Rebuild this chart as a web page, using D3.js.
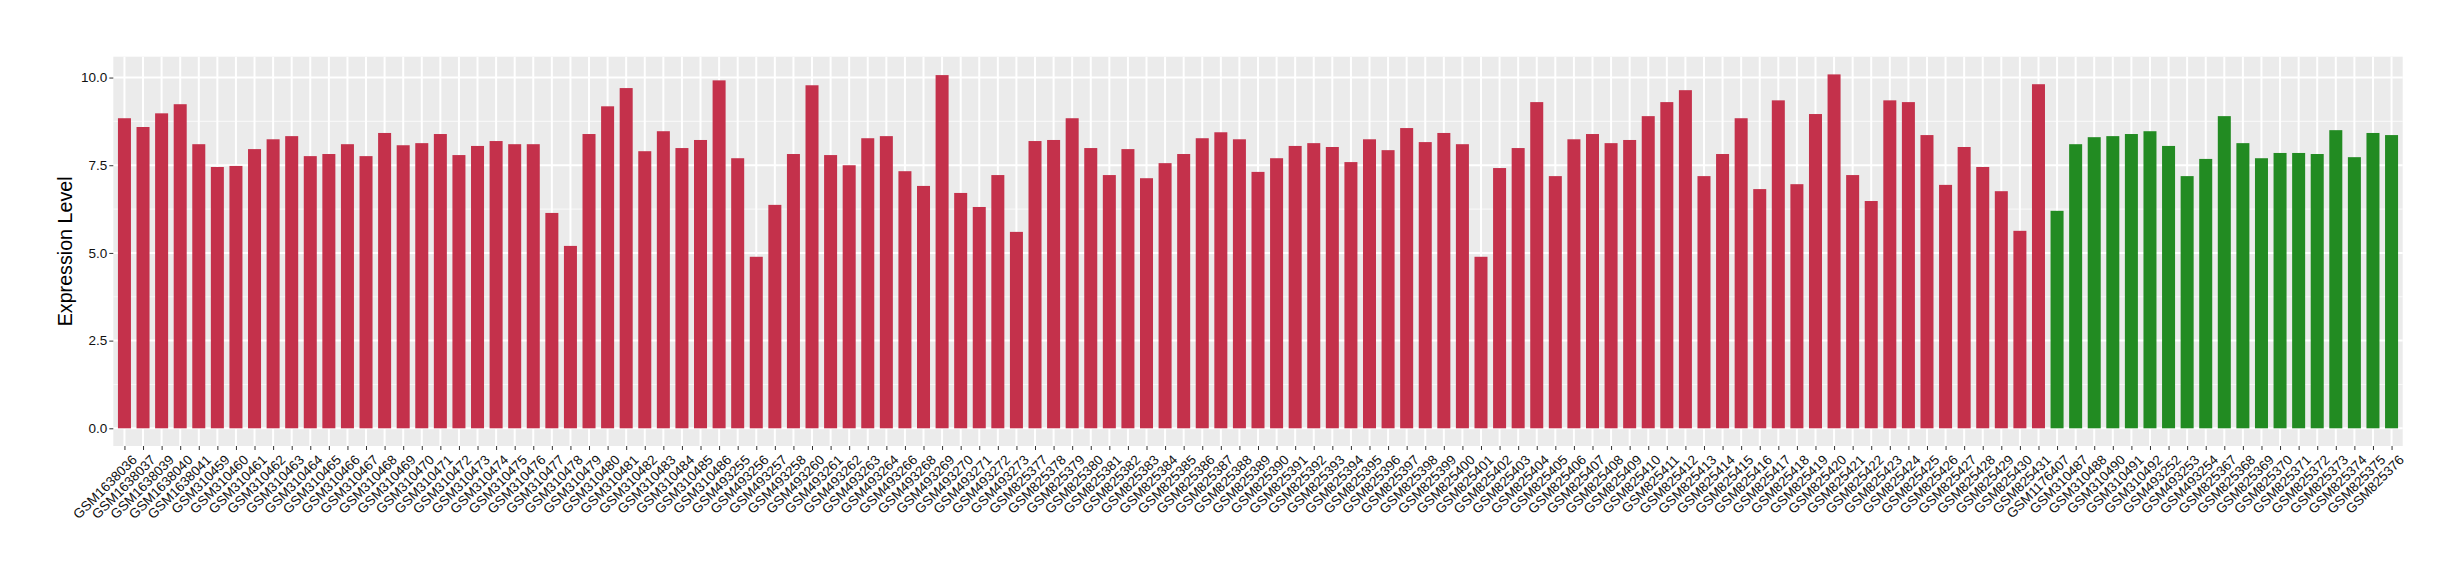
<!DOCTYPE html>
<html>
<head>
<meta charset="utf-8">
<script src="https://cdn.jsdelivr.net/npm/d3@7"></script>
<style>
  html, body { margin: 0; padding: 0; background: #fff; }
  svg { display: block; }
  text { font-family: "Liberation Sans", Arial, Helvetica, sans-serif; }
</style>
</head>
<body>
<div id="chart"></div>
<script>
// ---- data ----
const redSamples = [
  "GSM1638036","GSM1638037","GSM1638039","GSM1638040","GSM1638041",
  "GSM310459","GSM310460","GSM310461","GSM310462","GSM310463","GSM310464","GSM310465","GSM310466","GSM310467","GSM310468",
  "GSM310469","GSM310470","GSM310471","GSM310472","GSM310473","GSM310474","GSM310475","GSM310476","GSM310477","GSM310478",
  "GSM310479","GSM310480","GSM310481","GSM310482","GSM310483","GSM310484","GSM310485","GSM310486",
  "GSM493255","GSM493256","GSM493257","GSM493258","GSM493260","GSM493261","GSM493262","GSM493263","GSM493264","GSM493266",
  "GSM493268","GSM493269","GSM493270","GSM493271","GSM493272","GSM493273",
  "GSM825377","GSM825378","GSM825379","GSM825380","GSM825381","GSM825382","GSM825383","GSM825384","GSM825385","GSM825386",
  "GSM825387","GSM825388","GSM825389","GSM825390","GSM825391","GSM825392","GSM825393","GSM825394","GSM825395","GSM825396",
  "GSM825397","GSM825398","GSM825399","GSM825400","GSM825401","GSM825402","GSM825403","GSM825404","GSM825405","GSM825406",
  "GSM825407","GSM825408","GSM825409","GSM825410","GSM825411","GSM825412","GSM825413","GSM825414","GSM825415","GSM825416",
  "GSM825417","GSM825418","GSM825419","GSM825420","GSM825421","GSM825422","GSM825423","GSM825424","GSM825425","GSM825426",
  "GSM825427","GSM825428","GSM825429","GSM825430","GSM825431"
];
const redValues = [
  8.84, 8.59, 8.98, 9.24, 8.10,
  7.45, 7.48, 7.96, 8.24, 8.33, 7.76, 7.82, 8.10, 7.76, 8.42,
  8.07, 8.13, 8.39, 7.79, 8.05, 8.19, 8.10, 8.10, 6.14, 5.20,
  8.39, 9.18, 9.70, 7.90, 8.47, 7.99, 8.22, 9.92,
  7.70, 4.89, 6.37, 7.82, 9.78, 7.79, 7.50, 8.27, 8.33, 7.33,
  6.91, 10.07, 6.71, 6.31, 7.22, 5.60,
  8.19, 8.22, 8.84, 7.99, 7.22, 7.96, 7.13, 7.56, 7.82, 8.27,
  8.44, 8.24, 7.31, 7.70, 8.05, 8.13, 8.02, 7.59, 8.24, 7.93,
  8.56, 8.16, 8.42, 8.10, 4.89, 7.42, 7.99, 9.30, 7.19, 8.24,
  8.39, 8.13, 8.22, 8.90, 9.30, 9.64, 7.19, 7.82, 8.84, 6.82,
  9.35, 6.96, 8.96, 10.09, 7.22, 6.48, 9.35, 9.30, 8.36, 6.94,
  8.02, 7.45, 6.76, 5.63, 9.81
];
const greenSamples = [
  "GSM1176407","GSM310487","GSM310488","GSM310490","GSM310491","GSM310492",
  "GSM493252","GSM493253","GSM493254",
  "GSM825367","GSM825368","GSM825369","GSM825370","GSM825371","GSM825372","GSM825373","GSM825374","GSM825375","GSM825376"
];
const greenValues = [
  6.20, 8.10, 8.30, 8.33, 8.39, 8.47,
  8.05, 7.19, 7.68,
  8.90, 8.13, 7.70, 7.85, 7.85, 7.82, 8.50, 7.73, 8.42, 8.36
];
const yTicks = [0, 2.5, 5, 7.5, 10];
const yMinor = [1.25, 3.75, 6.25, 8.75];
const yTitle = "Expression Level";
const groupColors = { red: "#C4314B", green: "#228B22" };

// ---- build table ----
const rows = redSamples.map((s, i) => ({ sample: s, value: redValues[i], group: "red" }))
  .concat(greenSamples.map((s, i) => ({ sample: s, value: greenValues[i], group: "green" })));

const W = 2460, H = 580;
const panel = { left: 113.3, right: 2402.7, top: 56.7, bottom: 446 };

const svg = d3.select("#chart").append("svg").attr("width", W).attr("height", H);

const maxV = d3.max(rows, d => d.value);
const pad = 0.05 * maxV;
const y = d3.scaleLinear().domain([-pad, maxV + pad]).range([panel.bottom, panel.top]);
const x = d3.scalePoint().domain(rows.map(d => d.sample)).range([panel.left, panel.right]).padding(0.6);
const step = x.step();
const barW = step * 0.7;

// panel background
svg.append("rect")
  .attr("x", panel.left).attr("y", panel.top)
  .attr("width", panel.right - panel.left).attr("height", panel.bottom - panel.top)
  .attr("fill", "#EBEBEB");

// minor grid
svg.append("g").selectAll("line").data(yMinor).join("line")
  .attr("x1", panel.left).attr("x2", panel.right)
  .attr("y1", d => y(d)).attr("y2", d => y(d))
  .attr("stroke", "#fff").attr("stroke-width", 1.1).attr("opacity", 0.6);
// major grid horizontal
svg.append("g").selectAll("line").data(yTicks).join("line")
  .attr("x1", panel.left).attr("x2", panel.right)
  .attr("y1", d => y(d)).attr("y2", d => y(d))
  .attr("stroke", "#fff").attr("stroke-width", 2);
// major grid vertical
svg.append("g").selectAll("line").data(rows).join("line")
  .attr("x1", d => x(d.sample)).attr("x2", d => x(d.sample))
  .attr("y1", panel.top).attr("y2", panel.bottom)
  .attr("stroke", "#fff").attr("stroke-width", 2);

// bars
svg.append("g").selectAll("rect").data(rows).join("rect")
  .attr("x", d => x(d.sample) - barW / 2)
  .attr("width", barW)
  .attr("y", d => y(d.value))
  .attr("height", d => y(0) - y(d.value))
  .attr("fill", d => groupColors[d.group]);

// y axis
const yAxis = svg.append("g")
  .attr("transform", `translate(${panel.left},0)`)
  .call(d3.axisLeft(y).tickValues(yTicks).tickFormat(d3.format(".1f")).tickSize(4).tickPadding(2));
yAxis.select(".domain").remove();
yAxis.selectAll(".tick line").attr("stroke", "#333").attr("stroke-width", 1);
yAxis.selectAll(".tick text").attr("fill", "#111").attr("font-size", 13.5);

// x axis
const xAxis = svg.append("g")
  .attr("transform", `translate(0,${panel.bottom})`)
  .call(d3.axisBottom(x).tickSize(4).tickPadding(2));
xAxis.select(".domain").remove();
xAxis.selectAll(".tick line").attr("stroke", "#333").attr("stroke-width", 1);
xAxis.selectAll(".tick text")
  .attr("fill", "#111")
  .attr("font-size", 13.5)
  .attr("text-anchor", "end")
  .attr("dy", null)
  .attr("y", 0)
  .attr("x", 0)
  .attr("transform", "translate(6,8) rotate(-45)")
  .attr("dominant-baseline", "hanging");

// y title
svg.append("text")
  .attr("transform", `translate(65,${(panel.top + panel.bottom) / 2}) rotate(-90)`)
  .attr("text-anchor", "middle")
  .attr("dominant-baseline", "central")
  .attr("font-size", 19.7)
  .attr("fill", "#000")
  .text(yTitle);
</script>
</body>
</html>
